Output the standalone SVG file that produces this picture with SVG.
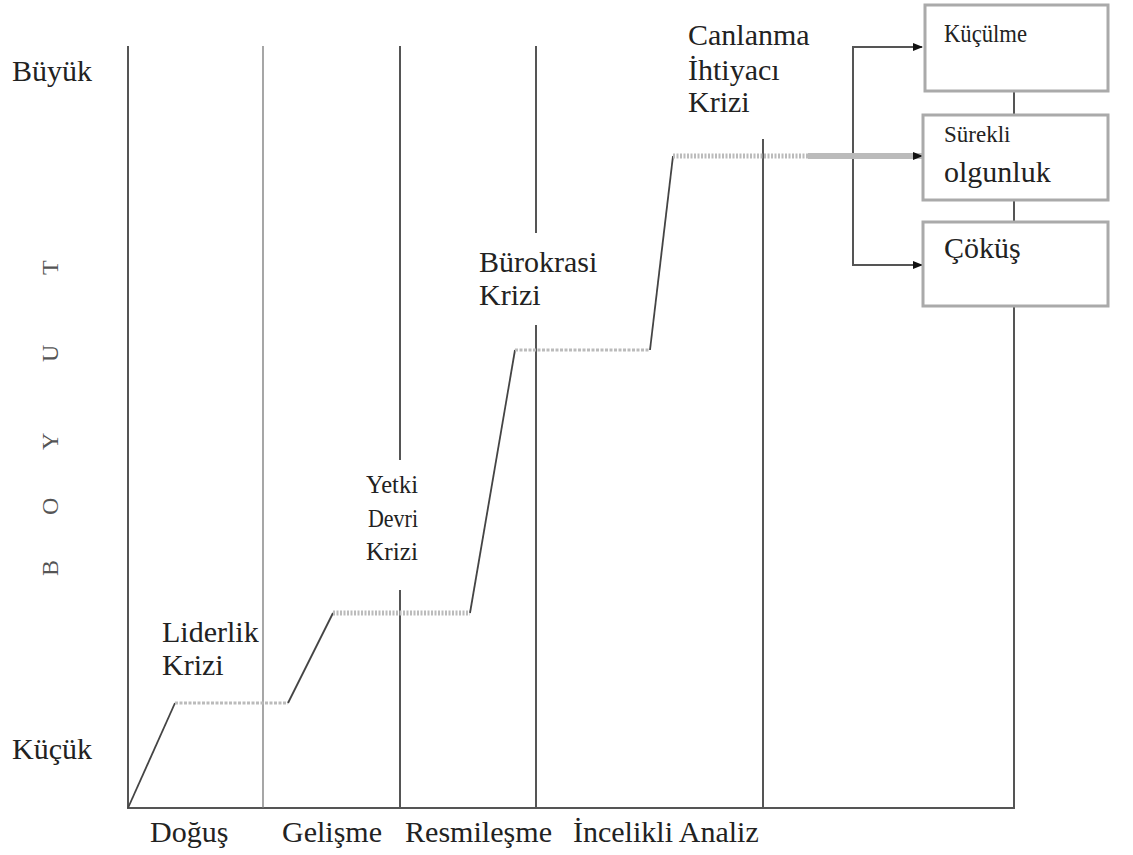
<svg xmlns="http://www.w3.org/2000/svg" width="1133" height="855" viewBox="0 0 1133 855" font-family="'Liberation Serif', 'Times New Roman', serif">
<style>
text{font-family:'Liberation Serif','Times New Roman',serif;fill:#222;}
.lbl{font-size:30px;}
.mid{font-size:26px;}
.sm{font-size:23px;}
.ax{stroke:#555;stroke-width:2;fill:none;}
.thin{stroke:#777;stroke-width:1.3;fill:none;}
.box{fill:#fff;stroke:#aaa;stroke-width:3;}
.dot{stroke:#bbb;stroke-width:3;stroke-dasharray:3 1.5;fill:none;}
.dotw{stroke:#bbb;stroke-width:5;stroke-dasharray:2 1.5;fill:none;}
.sl{stroke:#444;stroke-width:1.8;fill:none;}
.arr{stroke:#555;stroke-width:2;fill:none;}
.boyut{font-size:24px;fill:#555;}
</style>
<defs>
<marker id="ah" viewBox="0 0 10 10" refX="9" refY="5" markerWidth="10" markerHeight="10" markerUnits="userSpaceOnUse" orient="auto">
<path d="M0,1 L10,5 L0,9 z" fill="#111"/>
</marker>
</defs>
<rect width="1133" height="855" fill="#fff"/>

<g id="axes">
<line class="ax" x1="128" y1="46" x2="128" y2="808"/>
<line class="ax" x1="127" y1="808" x2="1015" y2="808"/>
<line class="thin" x1="263" y1="46" x2="263" y2="808"/>
<line class="ax" x1="400" y1="46" x2="400" y2="460"/>
<line class="ax" x1="400" y1="590" x2="400" y2="808"/>
<line class="ax" x1="536" y1="46" x2="536" y2="233"/>
<line class="ax" x1="536" y1="325" x2="536" y2="808"/>
<line class="ax" x1="763" y1="139" x2="763" y2="808"/>
</g>

<g id="axis-labels">
<text class="lbl" x="12" y="81">Büyük</text>
<text class="lbl" x="12" y="759">Küçük</text>
<text class="boyut" transform="translate(58,576) rotate(-90)">B</text>
<text class="boyut" transform="translate(58,515) rotate(-90)">O</text>
<text class="boyut" transform="translate(58,450) rotate(-90)">Y</text>
<text class="boyut" transform="translate(58,362) rotate(-90)">U</text>
<text class="boyut" transform="translate(58,275) rotate(-90)">T</text>
<text class="lbl" x="150" y="842">Doğuş</text>
<text class="lbl" x="282" y="842">Gelişme</text>
<text class="lbl" x="405" y="842" textLength="147" lengthAdjust="spacingAndGlyphs">Resmileşme</text>
<text class="lbl" x="573" y="842">İncelikli Analiz</text>
</g>

<g id="growth-curve">
<line class="sl" x1="128" y1="808" x2="175" y2="703"/>
<line class="dot" x1="175" y1="703" x2="288" y2="703"/>
<line class="sl" x1="288" y1="703" x2="333" y2="613"/>
<line class="dotw" x1="333" y1="613" x2="470" y2="613"/>
<line class="sl" x1="470" y1="613" x2="515" y2="350"/>
<line class="dot" x1="515" y1="350" x2="650" y2="350"/>
<line class="sl" x1="650" y1="350" x2="673" y2="156"/>
<line class="dotw" x1="673" y1="156" x2="808" y2="156"/>
</g>

<g id="crisis-labels">
<text class="lbl" x="162" y="642">Liderlik</text>
<text class="lbl" x="162" y="675">Krizi</text>
<text class="mid" x="366" y="493" textLength="52" lengthAdjust="spacingAndGlyphs">Yetki</text>
<text class="mid" x="368" y="527" textLength="50" lengthAdjust="spacingAndGlyphs">Devri</text>
<text class="mid" x="366" y="560" textLength="52" lengthAdjust="spacingAndGlyphs">Krizi</text>
<text class="lbl" x="479" y="272">Bürokrasi</text>
<text class="lbl" x="479" y="305">Krizi</text>
<text class="lbl" x="688" y="45">Canlanma</text>
<text class="lbl" x="688" y="80">İhtiyacı</text>
<text class="lbl" x="688" y="112">Krizi</text>
</g>

<g id="connectors">
<line class="ax" x1="1014" y1="91" x2="1014" y2="115"/>
<line class="ax" x1="1014" y1="200" x2="1014" y2="222"/>
<line class="ax" x1="1014" y1="306" x2="1014" y2="808"/>
<polyline class="arr" points="922,47 853,47 853,265 922,265" marker-end="url(#ah)"/>
<line class="arr" x1="853" y1="47" x2="922" y2="47" marker-end="url(#ah)"/>
<line x1="808" y1="156" x2="922" y2="156" stroke="#bbb" stroke-width="6" marker-end="url(#ah)"/>
</g>

<g id="node-kucukme">
<rect class="box" x="925" y="5" width="183" height="86"/>
<text class="mid" x="944" y="42" textLength="83" lengthAdjust="spacingAndGlyphs">Küçülme</text>
</g>
<g id="node-surekli">
<rect class="box" x="923" y="115" width="185" height="85"/>
<text class="sm" x="944" y="142">Sürekli</text>
<text class="lbl" x="944" y="182">olgunluk</text>
</g>
<g id="node-cokus">
<rect class="box" x="923" y="222" width="185" height="84"/>
<text class="lbl" x="944" y="258">Çöküş</text>
</g>
</svg>
